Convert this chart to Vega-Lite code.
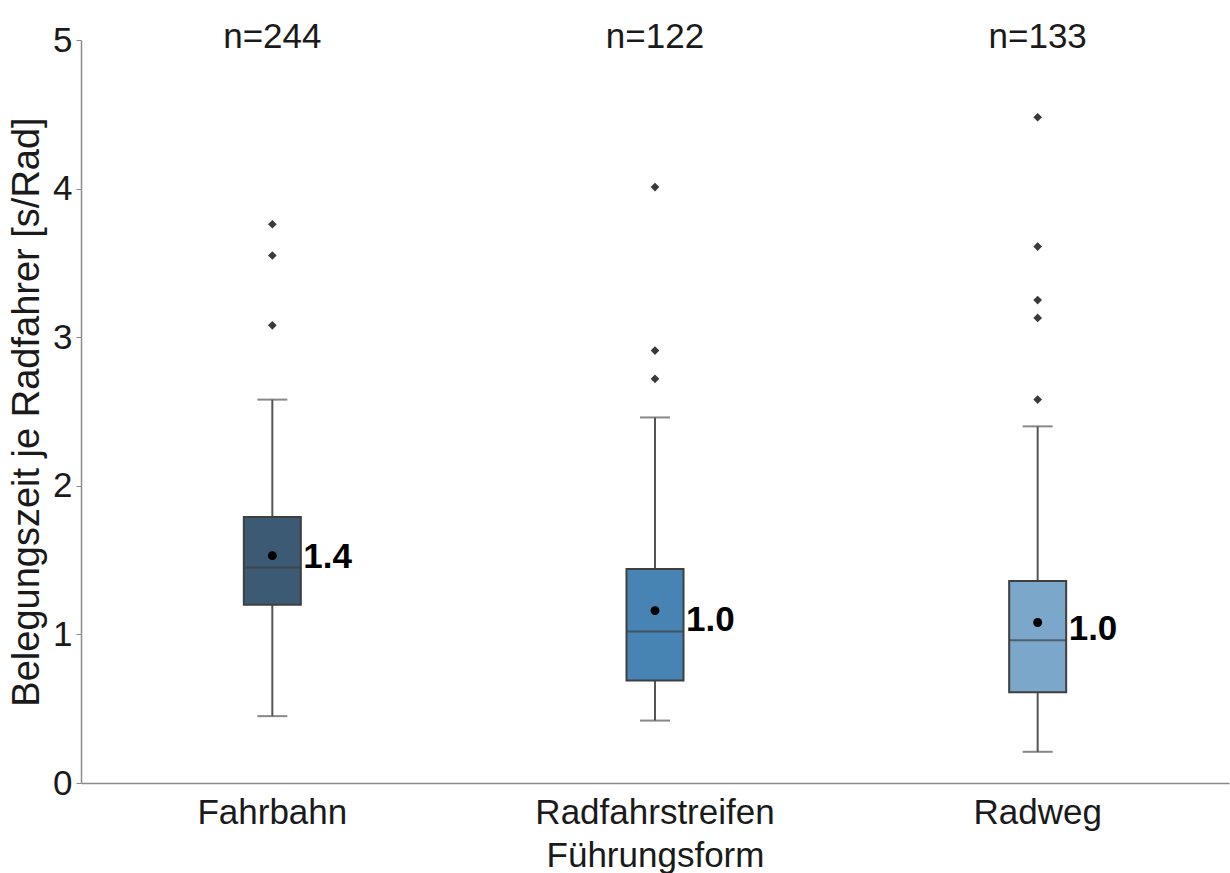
{
  "$schema": "https://vega.github.io/schema/vega-lite/v6.json",
  "width": 1148,
  "height": 743,
  "autosize": {"type": "none"},
  "padding": {"left": 81, "top": 40, "right": 1, "bottom": 90},
  "background": "white",
  "config": {
    "font": "Liberation Sans",
    "view": {"stroke": null},
    "axis": {"grid": false, "domainColor": "#8a8a8a", "domainWidth": 1.5, "tickColor": "#8a8a8a", "labelColor": "#1a1a1a", "titleColor": "#1a1a1a", "labelFont": "Liberation Sans", "titleFont": "Liberation Sans", "titleFontWeight": "normal"}
  },
  "datasets": {
    "stats": [
      {"form": "Fahrbahn", "low": 0.45, "q1": 1.20, "median": 1.45, "q3": 1.79, "high": 2.58, "mean": 1.53, "label": "1.4", "n": "n=244"},
      {"form": "Radfahrstreifen", "low": 0.42, "q1": 0.69, "median": 1.02, "q3": 1.44, "high": 2.46, "mean": 1.16, "label": "1.0", "n": "n=122"},
      {"form": "Radweg", "low": 0.21, "q1": 0.61, "median": 0.96, "q3": 1.36, "high": 2.40, "mean": 1.08, "label": "1.0", "n": "n=133"}
    ],
    "outliers": [
      {"form": "Fahrbahn", "value": 3.08},
      {"form": "Fahrbahn", "value": 3.55},
      {"form": "Fahrbahn", "value": 3.76},
      {"form": "Radfahrstreifen", "value": 2.72},
      {"form": "Radfahrstreifen", "value": 2.91},
      {"form": "Radfahrstreifen", "value": 4.01},
      {"form": "Radweg", "value": 2.58},
      {"form": "Radweg", "value": 3.13},
      {"form": "Radweg", "value": 3.25},
      {"form": "Radweg", "value": 3.61},
      {"form": "Radweg", "value": 4.48}
    ]
  },
  "data": {"name": "stats"},
  "encoding": {
    "x": {
      "field": "form", "type": "nominal", "sort": null,
      "scale": {"paddingInner": 0, "paddingOuter": 0},
      "axis": {"title": "Führungsform", "labelAngle": 0, "ticks": false, "labelPadding": 12, "labelFontSize": 35, "labelLimit": 500, "titleFontSize": 35, "titlePadding": 8, "labelBaseline": "top"}
    }
  },
  "layer": [
    {
      "mark": {"type": "rule", "color": "#555555", "strokeWidth": 2},
      "encoding": {
        "y": {"field": "low", "type": "quantitative", "scale": {"domain": [0, 5], "nice": false},
          "axis": {"title": "Belegungszeit je Radfahrer [s/Rad]", "values": [0, 1, 2, 3, 4, 5], "format": "d", "tickSize": 5, "labelPadding": 4, "labelFontSize": 35, "titleFontSize": 38, "titlePadding": 6, "titleLimit": 800}},
        "y2": {"field": "q1"}
      }
    },
    {
      "mark": {"type": "rule", "color": "#555555", "strokeWidth": 2},
      "encoding": {"y": {"field": "q3", "type": "quantitative"}, "y2": {"field": "high"}}
    },
    {
      "mark": {"type": "tick", "color": "#555555", "size": 30, "thickness": 2, "orient": "horizontal"},
      "encoding": {"y": {"field": "low", "type": "quantitative"}}
    },
    {
      "mark": {"type": "tick", "color": "#555555", "size": 30, "thickness": 2, "orient": "horizontal"},
      "encoding": {"y": {"field": "high", "type": "quantitative"}}
    },
    {
      "mark": {"type": "bar", "width": 57, "stroke": "#3f3f3f", "strokeWidth": 2},
      "encoding": {
        "y": {"field": "q1", "type": "quantitative"},
        "y2": {"field": "q3"},
        "color": {"field": "form", "type": "nominal", "sort": null, "legend": null,
          "scale": {"domain": ["Fahrbahn", "Radfahrstreifen", "Radweg"], "range": ["#3c5a74", "#4884b3", "#7aa7ca"]}}
      }
    },
    {
      "mark": {"type": "tick", "color": "#3f3f3f", "size": 57, "thickness": 2, "orient": "horizontal"},
      "encoding": {"y": {"field": "median", "type": "quantitative"}}
    },
    {
      "mark": {"type": "point", "shape": "circle", "filled": true, "color": "black", "size": 80, "opacity": 1},
      "encoding": {"y": {"field": "mean", "type": "quantitative"}}
    },
    {
      "mark": {"type": "text", "align": "left", "baseline": "middle", "dx": 31, "dy": -11, "fontSize": 35, "fontWeight": "bold", "color": "black"},
      "encoding": {"y": {"field": "median", "type": "quantitative"}, "text": {"field": "label"}}
    },
    {
      "mark": {"type": "text", "align": "center", "baseline": "alphabetic", "dy": 8, "fontSize": 35, "color": "#1a1a1a"},
      "encoding": {"y": {"datum": 5, "type": "quantitative"}, "text": {"field": "n"}}
    },
    {
      "data": {"name": "outliers"},
      "mark": {"type": "point", "shape": "diamond", "filled": true, "color": "#3a3a3a", "size": 75, "opacity": 1},
      "encoding": {"y": {"field": "value", "type": "quantitative"}}
    }
  ]
}
